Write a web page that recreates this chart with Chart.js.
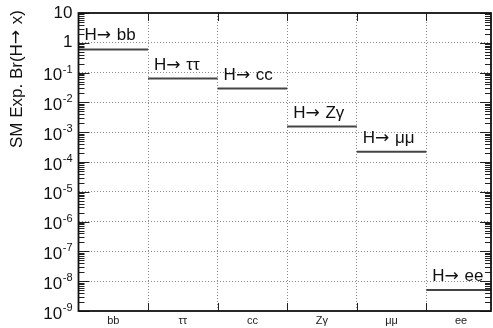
<!DOCTYPE html>
<html>
<head>
<meta charset="utf-8">
<script src="https://cdn.jsdelivr.net/npm/chart.js@4/dist/chart.umd.min.js"></script>
<style>
  html, body { margin: 0; padding: 0; background: #fff; }
  #wrap { width: 493px; height: 328px; }
</style>
</head>
<body>
<div id="wrap"><canvas id="c"></canvas></div>
<script>
// Higgs decay channels and their SM expected branching ratios
const categories = ['bb', 'ττ', 'cc', 'Zγ', 'μμ', 'ee'];
const channelLabels = ['H→ bb', 'H→ ττ', 'H→ cc', 'H→ Zγ', 'H→ μμ', 'H→ ee'];
const branchingRatios = [0.60, 0.063, 0.029, 0.00155, 0.00022, 5.1e-9];
// Decades shown on the logarithmic axis (10^-9 ... 10^1)
const decadeExponents = [-9, -8, -7, -6, -5, -4, -3, -2, -1, 0, 1];
const yTitle = 'SM Exp. Br(H→ x)';

const FONT = "'Liberation Sans', Arial, Helvetica, sans-serif";
const ARROW_FONT = "'DejaVu Sans', sans-serif";

// draws a string whose arrows use a wider arrow glyph; returns its width
function richText(ctx, str, size, x, y, measureOnly) {
  const parts = str.split('→');
  let cx = x;
  parts.forEach((p, i) => {
    if (i > 0) {
      ctx.font = size + 'px ' + ARROW_FONT;
      if (!measureOnly) ctx.fillText('→', cx, y);
      cx += ctx.measureText('→').width + 1;
    }
    ctx.font = size + 'px ' + FONT;
    if (!measureOnly) ctx.fillText(p, cx, y);
    cx += ctx.measureText(p).width;
  });
  return cx - x;
}

// one flat segment per channel, spanning its whole bin
const segments = [];
branchingRatios.forEach((v, i) => {
  segments.push({ x: i, y: v }, { x: i + 1, y: v }, { x: i + 1, y: null });
});

const framePlugin = {
  id: 'frame',
  afterDraw(chart) {
    const { ctx, chartArea: a, scales } = chart;
    const xs = scales.x, ys = scales.y;
    ctx.save();

    // tick marks pointing into the frame
    ctx.strokeStyle = '#222';
    ctx.lineWidth = 1;
    ctx.beginPath();
    decadeExponents.forEach(k => {
      const y = Math.round(ys.getPixelForValue(Math.pow(10, k))) + 0.5;
      ctx.moveTo(a.left, y); ctx.lineTo(a.left + 11, y);
      ctx.moveTo(a.right, y); ctx.lineTo(a.right - 11, y);
      if (k < 1) {
        for (let m = 2; m <= 9; m++) {
          const ym = Math.round(ys.getPixelForValue(m * Math.pow(10, k))) + 0.5;
          ctx.moveTo(a.left, ym); ctx.lineTo(a.left + 6, ym);
          ctx.moveTo(a.right, ym); ctx.lineTo(a.right - 6, ym);
        }
      }
    });
    for (let i = 1; i < categories.length; i++) {
      const x = Math.round(xs.getPixelForValue(i)) + 0.5;
      ctx.moveTo(x, a.bottom); ctx.lineTo(x, a.bottom - 8);
      ctx.moveTo(x, a.top); ctx.lineTo(x, a.top + 8);
    }
    ctx.stroke();

    // frame
    ctx.lineWidth = 1.8;
    ctx.strokeStyle = '#111';
    ctx.strokeRect(a.left, a.top, a.right - a.left, a.bottom - a.top);

    // decade labels 10^k with raised exponent
    ctx.fillStyle = '#111';
    const rightEdge = a.left - 6;
    decadeExponents.forEach(k => {
      const y = ys.getPixelForValue(Math.pow(10, k));
      ctx.textBaseline = 'middle';
      if (k === 1 || k === 0) {
        ctx.font = '17px ' + FONT;
        ctx.textAlign = 'right';
        ctx.fillText(k === 1 ? '10' : '1', rightEdge, y);
      } else {
        const exp = '-' + Math.abs(k);
        ctx.font = '11px ' + FONT;
        const ew = ctx.measureText(exp).width;
        ctx.textAlign = 'left';
        ctx.fillText(exp, rightEdge - ew, y - 3);
        ctx.font = '17px ' + FONT;
        ctx.textAlign = 'right';
        ctx.fillText('10', rightEdge - ew - 0.5, y + 3);
      }
    });

    // axis title, rotated, ending near the top of the frame
    ctx.textAlign = 'left';
    ctx.textBaseline = 'middle';
    ctx.save();
    ctx.translate(17, a.top - 3);
    ctx.rotate(-Math.PI / 2);
    const tw = richText(ctx, yTitle, 17, 0, 0, true);
    richText(ctx, yTitle, 17, -tw, 0, false);
    ctx.restore();

    // channel labels above each segment
    ctx.textBaseline = 'alphabetic';
    branchingRatios.forEach((v, i) => {
      const x = xs.getPixelForValue(i) + 6;
      const y = ys.getPixelForValue(v) - 9;
      richText(ctx, channelLabels[i], 17, x, y, false);
    });
    ctx.restore();
  }
};

new Chart(document.getElementById('c'), {
  type: 'line',
  data: {
    datasets: [{
      data: segments,
      borderColor: '#444',
      borderWidth: 2,
      pointRadius: 0,
      spanGaps: false,
      tension: 0
    }]
  },
  options: {
    responsive: true,
    maintainAspectRatio: false,
    animation: false,
    devicePixelRatio: 1,
    layout: { padding: { top: 13, right: 2, left: 0, bottom: 0 } },
    plugins: { legend: { display: false }, tooltip: { enabled: false } },
    scales: {
      x: {
        type: 'linear',
        min: 0,
        max: 5.93,
        afterBuildTicks(scale) {
          const t = [];
          categories.forEach((c, i) => { t.push({ value: i }, { value: i + 0.5 }); });
          scale.ticks = t;
        },
        afterFit(scale) { scale.height = 17; },
        ticks: {
          autoSkip: false,
          maxRotation: 0,
          minRotation: 0,
          padding: 3,
          color: '#222',
          font: { family: FONT, size: 11 },
          callback(value) {
            return (value % 1 === 0.5) ? categories[Math.floor(value)] : '';
          }
        },
        grid: {
          drawTicks: false,
          lineWidth: 1,
          color(ctx) {
            const v = ctx.tick ? ctx.tick.value : 0;
            return (Number.isInteger(v) && v > 0) ? '#8a8a8a' : 'rgba(0,0,0,0)';
          }
        },
        border: { display: false, dash: [1, 2] }
      },
      y: {
        type: 'logarithmic',
        min: 1e-9,
        max: 10,
        afterBuildTicks(scale) {
          scale.ticks = decadeExponents.map(k => ({ value: Math.pow(10, k) }));
        },
        afterFit(scale) { scale.width = 78.5; },
        ticks: { display: false },
        grid: {
          drawTicks: false,
          lineWidth: 1,
          color(ctx) {
            const v = ctx.tick ? ctx.tick.value : 0;
            return (v > 2e-9 && v < 5) ? '#8a8a8a' : 'rgba(0,0,0,0)';
          }
        },
        border: { display: false, dash: [1, 2] }
      }
    }
  },
  plugins: [framePlugin]
});
</script>
</body>
</html>
